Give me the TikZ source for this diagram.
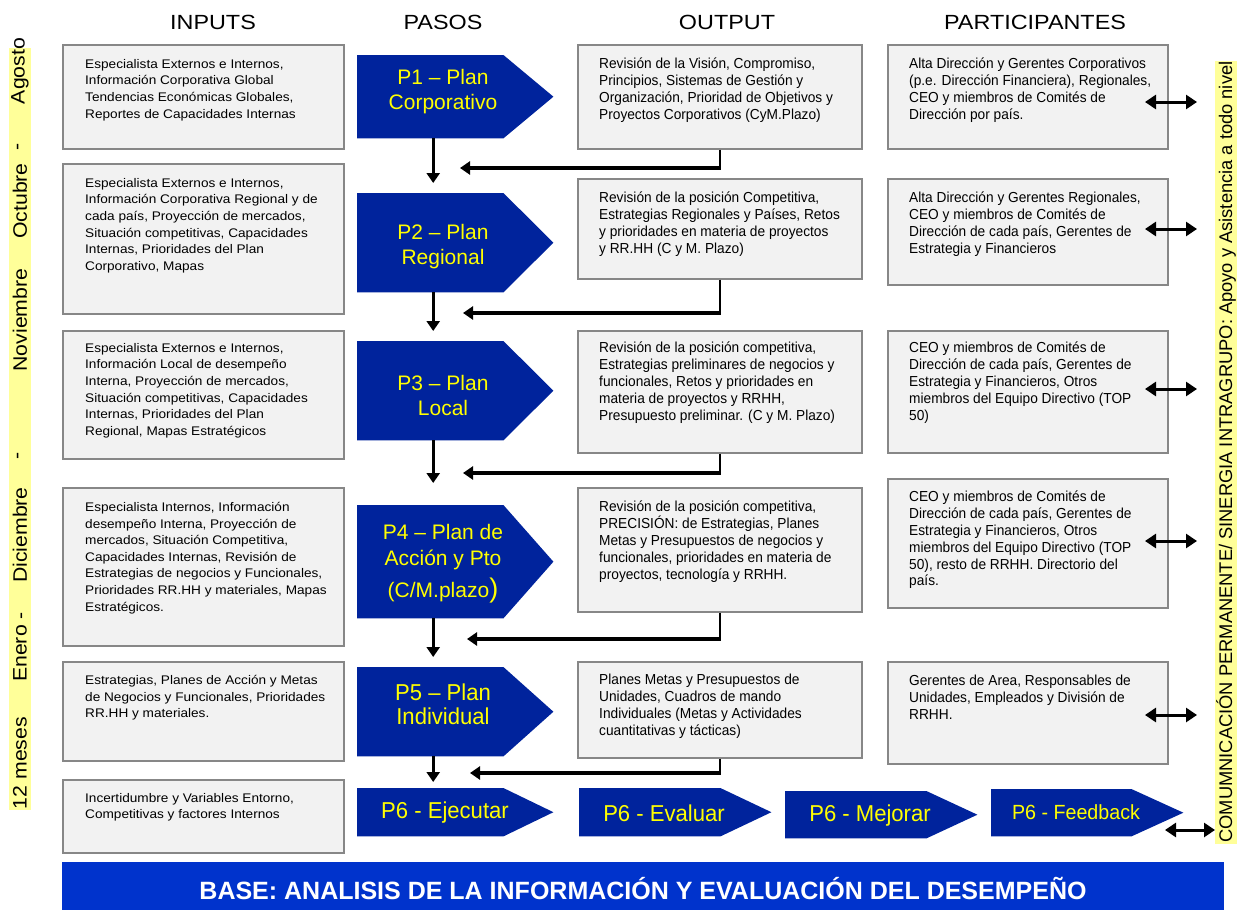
\documentclass[tikz,border=0pt]{standalone}
\usepackage{fontspec}
\setmainfont{Liberation Sans}
\newfontfamily\narrowfont[FakeStretch=0.945]{Liberation Sans}
\newfontfamily\widefont[FakeStretch=1.09]{Liberation Sans}
\newfontfamily\headfont[FakeStretch=1.14]{Liberation Sans}
\newfontfamily\stepfont[FakeStretch=0.96]{Liberation Sans}
\usetikzlibrary{arrows.meta,calc}

\definecolor{pasoblue}{RGB}{0,35,156}
\definecolor{barblue}{RGB}{0,51,204}
\definecolor{boxgray}{RGB}{242,242,242}
\definecolor{boxline}{RGB}{135,135,135}
\definecolor{stripyellow}{RGB}{255,255,153}
\definecolor{pasoyellow}{RGB}{255,255,0}

\tikzset{
  infobox/.style={draw=boxline, line width=1.6pt, fill=boxgray, inner sep=0, anchor=north west},
  intext/.style={anchor=north west, inner sep=0, align=left, font=\widefont\fontsize{12.5}{16.6}\selectfont},
  outtext/.style={anchor=north west, inner sep=0, align=left, font=\narrowfont\fontsize{14.5}{16.8}\selectfont},
  colhead/.style={font=\headfont\fontsize{20.5}{24}\selectfont},
  pasotxt/.style={text=pasoyellow, align=center, inner sep=0, font=\fontsize{21}{25}\selectfont},
  pasonarrow/.style={text=pasoyellow, align=center, inner sep=0, font=\stepfont\fontsize{23}{24}\selectfont},
  month/.style={rotate=90, inner sep=0, font=\widefont\fontsize{19.5}{24}\selectfont},
  downarrow/.style={line width=3pt, -{Triangle[length=10pt,width=13pt]}},
  backarrow/.style={line width=3.5pt, -{Triangle[length=10pt,width=13pt]}},
  stemline/.style={line width=2pt},
  twoway/.style={line width=3pt, {Triangle[length=11pt,width=14pt]}-{Triangle[length=11pt,width=14pt]}},
}

% pentagon step: name, north-west corner, width, height, tip depth
\newcommand\pasoshape[5]{%
  \node[inner sep=0, minimum width=#3, minimum height=#4, anchor=north west] (#1) at #2 {};
  \fill[pasoblue] (#1.north west) -- (#1.north east) -- ([xshift=#5]#1.east)
    -- (#1.south east) -- (#1.south west) -- cycle;
}

\begin{document}
\begin{tikzpicture}[x=1pt,y=-1pt]
\useasboundingbox (0,0) rectangle (1242,910);

% column headings
\node[colhead] (hin)   at (213,22)  {INPUTS};
\node[colhead] (hpaso) at (443,22)  {PASOS};
\node[colhead] (hout)  at (727,22)  {OUTPUT};
\node[colhead] (hpart) at (1035,22) {PARTICIPANTES};

% time strip on the left
\fill[stripyellow] (9,48) rectangle (31,810);
\node[month] (m1) at (20,71)  {Agosto};
\node[month] (m2) at (20,147) {-};
\node[month] (m3) at (20,201) {Octubre};
\node[month] (m4) at (20,320) {Noviembre};
\node[month] (m5) at (20,456) {-};
\node[month] (m6) at (20,535) {Diciembre};
\node[month] (m7) at (20,647) {Enero -};
\node[month] (m8) at (20,763) {12 meses};

% INPUTS
\node[infobox, minimum width=281, minimum height=104] (i1) at (62,44)  {};
\node[infobox, minimum width=281, minimum height=150] (i2) at (62,163) {};
\node[infobox, minimum width=281, minimum height=128] (i3) at (62,330) {};
\node[infobox, minimum width=281, minimum height=158] (i4) at (62,487) {};
\node[infobox, minimum width=281, minimum height=99]  (i5) at (62,661) {};
\node[infobox, minimum width=281, minimum height=73]  (i6) at (62,779) {};

\node[intext] (i1t) at (85,59) {Especialista Externos e Internos,\\Información Corporativa Global\\Tendencias Económicas Globales,\\Reportes de Capacidades Internas};
\node[intext] (i2t) at (85,178) {Especialista Externos e Internos,\\Información Corporativa Regional y de\\cada país, Proyección de mercados,\\Situación competitivas, Capacidades\\Internas, Prioridades del Plan\\Corporativo, Mapas};
\node[intext] (i3t) at (85,343) {Especialista Externos e Internos,\\Información Local de desempeño\\Interna, Proyección de mercados,\\Situación competitivas, Capacidades\\Internas, Prioridades del Plan\\Regional, Mapas Estratégicos};
\node[intext] (i4t) at (85,502) {Especialista Internos, Información\\desempeño Interna, Proyección de\\mercados, Situación Competitiva,\\Capacidades Internas, Revisión de\\Estrategias de negocios y Funcionales,\\Prioridades RR.HH y materiales, Mapas\\Estratégicos.};
\node[intext] (i5t) at (85,675) {Estrategias, Planes de Acción y Metas\\de Negocios y Funcionales, Prioridades\\RR.HH y materiales.};
\node[intext] (i6t) at (85,793) {Incertidumbre y Variables Entorno,\\Competitivas y factores Internos};

% OUTPUT
\node[infobox, minimum width=284, minimum height=104] (o1) at (577,44)  {};
\node[infobox, minimum width=284, minimum height=100] (o2) at (577,178) {};
\node[infobox, minimum width=284, minimum height=122] (o3) at (577,330) {};
\node[infobox, minimum width=284, minimum height=124] (o4) at (577,487) {};
\node[infobox, minimum width=284, minimum height=96]  (o5) at (577,661) {};

\node[outtext] (o1t) at (599,58) {Revisión de la Visión, Compromiso,\\Principios, Sistemas de Gestión y\\Organización, Prioridad de Objetivos y\\Proyectos Corporativos (CyM.Plazo)};
\node[outtext] (o2t) at (599,192) {Revisión de la posición Competitiva,\\Estrategias Regionales y Países, Retos\\y prioridades en materia de proyectos\\y RR.HH (C y M. Plazo)};
\node[outtext] (o3t) at (599,342) {Revisión de la posición competitiva,\\Estrategias preliminares de negocios y\\funcionales, Retos y prioridades en\\materia de proyectos y RRHH,\\Presupuesto preliminar. (C y M. Plazo)};
\node[outtext] (o4t) at (599,501) {Revisión de la posición competitiva,\\PRECISIÓN: de Estrategias, Planes\\Metas y Presupuestos de negocios y\\funcionales, prioridades en materia de\\proyectos, tecnología y RRHH.};
\node[outtext] (o5t) at (599,674) {Planes Metas y Presupuestos de\\Unidades, Cuadros de mando\\Individuales (Metas y Actividades\\cuantitativas y tácticas)};

% PARTICIPANTES
\node[infobox, minimum width=280, minimum height=104] (pa1) at (887,44)  {};
\node[infobox, minimum width=280, minimum height=106] (pa2) at (887,178) {};
\node[infobox, minimum width=280, minimum height=122] (pa3) at (887,330) {};
\node[infobox, minimum width=280, minimum height=129] (pa4) at (887,478) {};
\node[infobox, minimum width=280, minimum height=102] (pa5) at (887,661) {};

\node[outtext] (pa1t) at (909,58) {Alta Dirección y Gerentes Corporativos\\(p.e. Dirección Financiera), Regionales,\\CEO y miembros de Comités de\\Dirección por país.};
\node[outtext] (pa2t) at (909,192) {Alta Dirección y Gerentes Regionales,\\CEO y miembros de Comités de\\Dirección de cada país, Gerentes de\\Estrategia y Financieros};
\node[outtext] (pa3t) at (909,342) {CEO y miembros de Comités de\\Dirección de cada país, Gerentes de\\Estrategia y Financieros, Otros\\miembros del Equipo Directivo (TOP\\50)};
\node[outtext] (pa4t) at (909,491) {CEO y miembros de Comités de\\Dirección de cada país, Gerentes de\\Estrategia y Financieros, Otros\\miembros del Equipo Directivo (TOP\\50), resto de RRHH. Directorio del\\país.};
\node[outtext] (pa5t) at (909,675) {Gerentes de Area, Responsables de\\Unidades, Empleados y División de\\RRHH.};

% PASOS
\pasoshape{p1}{(357,55)}{146}{83}{50}
\pasoshape{p2}{(357,193)}{146}{99}{50}
\pasoshape{p3}{(357,341)}{146}{99}{50}
\pasoshape{p4}{(357,505)}{146}{113}{50}
\pasoshape{p5}{(357,667)}{146}{89}{50}
\pasoshape{p6a}{(357,788)}{146}{48}{50}
\pasoshape{p6b}{(579,788)}{141}{48}{51}
\pasoshape{p6c}{(785,791)}{141}{47}{51}
\pasoshape{p6d}{(991,789)}{140}{47}{52}

\node[pasotxt] (p1t) at (443,92)  {P1 – Plan\\Corporativo};
\node[pasotxt] (p2t) at (443,247) {P2 – Plan\\Regional};
\node[pasotxt] (p3t) at (443,395) {P3 – Plan\\Local};
\node[pasotxt, font=\fontsize{21}{26}\selectfont] (p4t) at (443,564) {P4 – Plan de\\Acción y Pto\\[6pt](C/M.plazo{\fontsize{27}{27}\selectfont)}};
\node[pasonarrow] (p5t) at (443,704) {P5 – Plan\\Individual};
\node[pasonarrow] (p6at) at (445,813) {P6 - Ejecutar};
\node[pasonarrow] (p6bt) at (664,813) {P6 - Evaluar};
\node[pasonarrow] (p6ct) at (870,816) {P6 - Mejorar};
\node[pasonarrow, font=\stepfont\fontsize{20.5}{22}\selectfont] (p6dt) at (1076,812) {P6 - Feedback};

% flow between steps
\draw[downarrow, shorten >=10pt] ([xshift=3pt]p1.south) -- ([xshift=3pt]p2.north);
\draw[downarrow, shorten >=10pt] ([xshift=3pt]p2.south) -- ([xshift=3pt]p3.north);
\draw[downarrow, shorten >=22pt] ([xshift=3pt]p3.south) -- ([xshift=3pt]p4.north);
\draw[downarrow, shorten >=10pt] ([xshift=3pt]p4.south) -- ([xshift=3pt]p5.north);
\draw[downarrow, shorten >=6pt]  ([xshift=3pt]p5.south) -- ([xshift=3pt]p6a.north);

% feedback from each output back to the step flow
\coordinate (f1) at (460,168);
\coordinate (f2) at (463,313);
\coordinate (f3) at (463,473);
\coordinate (f4) at (467,639);
\coordinate (f5) at (470,773);
\foreach \k in {1,...,5}{
  \draw[stemline] (o\k.south) -- (o\k.south |- f\k);
  \draw[backarrow] ([xshift=1pt]o\k.south |- f\k) -- (f\k);
}

% two-way links with the communication band
\foreach \k/\yy in {1/102,2/229,3/389,4/541,5/715}{
  \coordinate (la\k) at (1145,\yy);
  \coordinate (lb\k) at (1197,\yy);
  \draw[twoway] (la\k) -- (lb\k);
}
\coordinate (la6) at (1165,830);
\coordinate (lb6) at (1215,830);
\draw[twoway] (la6) -- (lb6);

% communication band on the right
\node[rotate=90, fill=stripyellow, inner sep=1pt, font=\fontsize{18.3}{20}\selectfont] (comm) at (1226,452)
  {COMUMNICACIÓN PERMANENTE/ SINERGIA INTRAGRUPO: Apoyo y Asistencia a todo nivel};

% base bar
\node[fill=barblue, inner sep=0, minimum width=1162, minimum height=48, anchor=north west] (base) at (62,862) {};
\node[text=white, font=\bfseries\fontsize{25}{26}\selectfont] (baset) at (643,888)
  {BASE: ANALISIS DE LA INFORMACIÓN Y EVALUACIÓN DEL DESEMPEÑO};
\end{tikzpicture}
\end{document}
